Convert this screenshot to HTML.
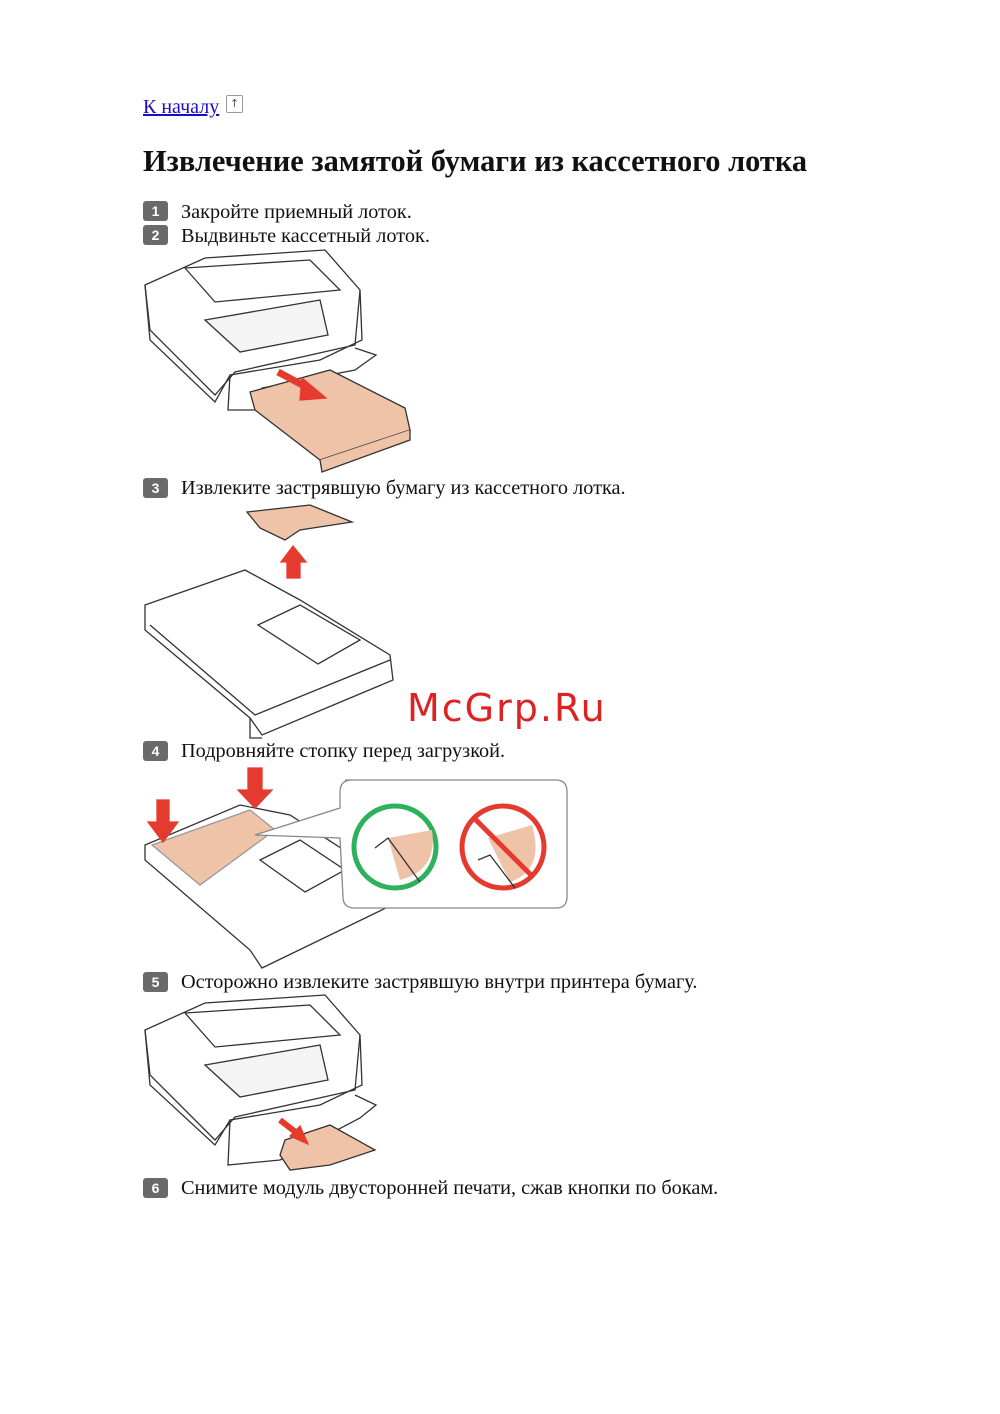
<!DOCTYPE html>
<html><head><meta charset="utf-8"><style>
body{margin:0;background:#fff;width:1000px;height:1414px;position:relative;overflow:hidden;font-family:"Liberation Serif","DejaVu Serif",serif;color:#111}
.a{position:absolute;white-space:nowrap}
.t{font-size:20.3px;left:181px}
.b{position:absolute;left:143px;width:25px;height:20px;background:#6a6a6a;border-radius:3px;color:#fff;font:bold 14px "Liberation Sans",sans-serif;text-align:center;line-height:20px}
svg{position:absolute;left:0;top:0}
</style></head><body>
<div class="a" style="left:143px;top:96px;font-size:20px;color:#1a0dcc;text-decoration:underline">К началу</div>
<div class="a" style="left:226px;top:95px;width:15px;height:16px;border:1px solid #999;border-radius:2px;font:11px 'DejaVu Sans',sans-serif;text-align:center;color:#555;line-height:16px">↑</div>
<div class="a" style="left:143px;top:144px;font-size:30.4px;font-weight:bold">Извлечение замятой бумаги из кассетного лотка</div>
<div class="b" style="top:201px">1</div><div class="a t" style="top:201px">Закройте приемный лоток.</div>
<div class="b" style="top:225px">2</div><div class="a t" style="top:225px">Выдвиньте кассетный лоток.</div>
<div class="b" style="top:478px">3</div><div class="a t" style="top:477px">Извлеките застрявшую бумагу из кассетного лотка.</div>
<div class="b" style="top:741px">4</div><div class="a t" style="top:740px">Подровняйте стопку перед загрузкой.</div>
<div class="b" style="top:972px">5</div><div class="a t" style="top:971px">Осторожно извлеките застрявшую внутри принтера бумагу.</div>
<div class="b" style="top:1178px">6</div><div class="a t" style="top:1177px">Снимите модуль двусторонней печати, сжав кнопки по бокам.</div>
<div class="a" style="left:407px;top:686px;font:38px 'DejaVu Sans','Liberation Sans',sans-serif;color:#dd2222;letter-spacing:2px">McGrp.Ru</div>
<svg width="1000" height="1414" fill="none" stroke="#333" stroke-width="1.3">
<g>
<path d="M145 285 L205 258 L325 250 L360 290 L362 340 L320 360 L230 375 L215 402 L150 340 Z" fill="#fff"/>
<path d="M145 285 L150 330 L215 395 L235 372 L355 345 L360 290"/>
<path d="M185 268 L310 260 L340 290 L215 302 Z"/>
<path d="M205 320 L320 300 L328 335 L240 352 Z" fill="#f4f4f4"/>
<path d="M230 375 L228 410 L260 410 L262 388 L355 370 L376 355 L355 348"/>
<path d="M250 392 L255 410 L320 460 L410 430 L405 408 L330 370 Z" fill="#eec3a8"/>
<path d="M320 460 L322 472 L410 440 L410 430" fill="#eec3a8"/>
<path d="M278 372 L312 390" stroke="#e53a2e" stroke-width="7"/>
<path d="M302 378 L326 398 L300 400 Z" fill="#e53a2e" stroke="#e53a2e"/>
</g>
<g>
<path d="M247 512 L310 505 L352 522 L300 530 L285 540 L260 528 Z" fill="#eec3a8"/>
<path d="M287 560 L300 560 L300 578 L287 578 Z" fill="#e53a2e" stroke="#e53a2e"/>
<path d="M281 562 L293 546 L306 562 Z" fill="#e53a2e" stroke="#e53a2e"/>
<path d="M145 605 L245 570 L300 600 L390 655 L393 680 L262 735 L250 718 L145 630 Z" fill="#fff"/>
<path d="M150 625 L255 715 L390 660"/>
<path d="M258 625 L300 605 L360 640 L318 664 Z" fill="#fff"/>
<path d="M250 718 L250 738 L262 738"/>
</g>
<g>
<path d="M145 845 L240 805 L290 815 L390 880 L392 905 L262 968 L250 950 L145 860 Z" fill="#fff"/>
<path d="M152 845 L250 810 L275 830 L200 885 Z" fill="#eec3a8" stroke="#999"/>
<path d="M260 860 L300 840 L345 870 L305 892 Z" fill="#fff"/>
<path d="M248 768 L262 768 L262 790 L272 790 L255 808 L238 790 L248 790 Z" fill="#e53a2e" stroke="#e53a2e"/>
<path d="M157 800 L169 800 L169 822 L178 822 L163 842 L148 822 L157 822 Z" fill="#e53a2e" stroke="#e53a2e"/>
<path d="M345 780 L556 780 Q567 780 567 792 L567 897 Q567 908 556 908 L355 908 Q343 908 343 897 L340 838 L255 835 L340 808 L340 792 Q340 780 352 780 Z" fill="#fff" stroke="#888"/>
<circle cx="395" cy="847" r="41" fill="#fff" stroke="#2db15a" stroke-width="5"/>
<path d="M388 838 L432 830 Q438 870 400 880 Z" fill="#eec3a8" stroke="none"/>
<path d="M375 848 L388 838 L420 882"/>
<circle cx="503" cy="847" r="41" fill="#fff" stroke="#e53a2e" stroke-width="5"/>
<path d="M488 838 L532 825 Q545 870 510 882 Z" fill="#eec3a8" stroke="none"/>
<path d="M478 860 L490 855 L515 888"/>
<path d="M475 819 L531 875" stroke="#e53a2e" stroke-width="5"/>
</g>
<g>
<path d="M145 1030 L205 1003 L325 995 L360 1035 L362 1085 L320 1105 L230 1120 L215 1145 L150 1085 Z" fill="#fff"/>
<path d="M145 1030 L150 1075 L215 1140 L235 1117 L355 1090 L360 1035"/>
<path d="M185 1013 L310 1005 L340 1035 L215 1047 Z"/>
<path d="M205 1065 L320 1045 L328 1080 L240 1097 Z" fill="#f4f4f4"/>
<path d="M230 1120 L228 1165 L280 1160 L360 1118 L376 1105 L355 1095"/>
<path d="M285 1140 L330 1125 L375 1150 L330 1165 L290 1170 L280 1155 Z" fill="#eec3a8"/>
<path d="M280 1120 L298 1134" stroke="#e53a2e" stroke-width="6"/>
<path d="M290 1136 L308 1144 L300 1126 Z" fill="#e53a2e" stroke="#e53a2e"/>
</g>
</svg>
</body></html>
